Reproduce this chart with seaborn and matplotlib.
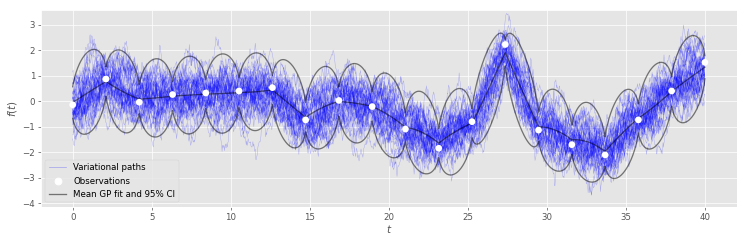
import numpy as np
import pandas as pd
import matplotlib
matplotlib.use("Agg")
import matplotlib.pyplot as plt
from matplotlib.lines import Line2D
import seaborn as sns

plt.style.use("ggplot")

# ---- data ----
obs_t = [0.0, 2.105, 4.211, 6.316, 8.421, 10.526, 12.632, 14.737, 16.842, 18.947,
         21.053, 23.158, 25.263, 27.368, 29.474, 31.579, 33.684, 35.789, 37.895, 40.0]
obs_y = [-0.14, 0.87, -0.04, 0.26, 0.32, 0.40, 0.53, -0.73, 0.03, -0.21,
         -1.09, -1.84, -0.80, 2.22, -1.13, -1.70, -2.10, -0.73, 0.40, 1.52]
# GP mean at the observation times and at segment midpoints
mean_knot = [-0.05, 0.77, 0.08, 0.20, 0.28, 0.34, 0.44, -0.63, -0.01, -0.20,
             -1.02, -1.64, -0.86, 1.90, -1.00, -1.51, -1.97, -0.67, 0.38, 1.33]
mean_mid = [0.37, 0.38, 0.13, 0.24, 0.30, 0.37, -0.10, -0.25, -0.08, -0.55,
            -1.22, -1.19, 0.48, 0.44, -1.13, -1.60, -1.27, -0.18, 0.87]
# 95% CI half width at observation times and at segment midpoints
ci_knot = [0.62, 0.58, 0.57, 0.57, 0.57, 0.57, 0.57, 0.57, 0.57, 0.57,
           0.57, 0.57, 0.57, 0.52, 0.57, 0.57, 0.57, 0.57, 0.57, 0.45]
ci_mid = [1.60, 1.58, 1.53, 1.52, 1.55, 1.52, 1.63, 1.58, 1.55, 1.60,
          1.58, 1.64, 1.60, 1.60, 1.58, 1.54, 1.60, 1.60, 1.63]
n_paths = 45
path_sd_knot = 0.48
path_sd_mid = 0.62

# ---- build mean / CI curves segment by segment ----
tt, mm, hh, sd = [], [], [], []
for i in range(len(obs_t) - 1):
    ta, tb = obs_t[i], obs_t[i + 1]
    s = np.linspace(0, 1, 60, endpoint=(i == len(obs_t) - 2))
    ma, mc, mb = mean_knot[i], mean_mid[i], mean_knot[i + 1]
    m = ma * (1 - s) * (1 - 2 * s) + mc * 4 * s * (1 - s) + mb * s * (2 * s - 1)
    ha, hb, H = ci_knot[i], ci_knot[i + 1], ci_mid[i]
    hl = (1 - s) * ha + s * hb
    hmid = 0.5 * (ha + hb)
    h = np.sqrt(hl ** 2 + (H ** 2 - hmid ** 2) * 4 * s * (1 - s))
    tt.append(ta + s * (tb - ta))
    mm.append(m)
    hh.append(h)
    sd.append(path_sd_knot + (path_sd_mid - path_sd_knot) * 4 * s * (1 - s))
tt = np.concatenate(tt); mm = np.concatenate(mm); hh = np.concatenate(hh); sd = np.concatenate(sd)

# ---- variational sample paths (stochastic texture around the mean) ----
rng = np.random.default_rng(7)
tp = np.arange(0, 40.0001, 0.03)
m_p = np.interp(tp, tt, mm)
sd_p = np.interp(tp, tt, sd)
theta = 1.2
dt = tp[1] - tp[0]
rows = []
for k in range(n_paths):
    z = np.empty_like(tp)
    z[0] = rng.normal()
    for j in range(1, len(tp)):
        z[j] = z[j - 1] - theta * z[j - 1] * dt + np.sqrt(2 * theta * dt) * rng.normal()
    y = m_p + sd_p * z
    rows.append(pd.DataFrame({"t": tp, "f": y, "path": k}))
paths = pd.concat(rows, ignore_index=True)

curves = pd.DataFrame({"t": tt, "mean": mm, "upper": mm + hh, "lower": mm - hh})
obs = pd.DataFrame({"t": obs_t, "y": obs_y})

fig = plt.figure(figsize=(12, 3.904), dpi=62.25)
ax = fig.add_axes([0.055, 0.149, 0.931, 0.810])

sns.lineplot(data=paths, x="t", y="f", units="path", estimator=None, sort=False,
             color="b", lw=0.5, alpha=0.28, ax=ax, legend=False)
for col in ["upper", "lower", "mean"]:
    sns.lineplot(data=curves, x="t", y=col, color="k", alpha=0.5, lw=1.5,
                 sort=False, ax=ax, legend=False)
sns.scatterplot(data=obs, x="t", y="y", color="white", s=60, edgecolor="none",
                zorder=5, ax=ax, legend=False)

ax.set_xlim(-2, 42)
ax.set_ylim(-4.13, 3.57)
ax.set_xticks([0, 5, 10, 15, 20, 25, 30, 35, 40])
ax.set_yticks([-4, -3, -2, -1, 0, 1, 2, 3])
ax.set_xlabel("$t$", labelpad=1)
ax.set_ylabel("$f(t)$")

handles = [Line2D([], [], color="b", lw=0.8, alpha=0.3),
           Line2D([], [], marker="o", ls="none", color="white", markersize=8),
           Line2D([], [], color="k", alpha=0.5, lw=1.5)]
ax.legend(handles, ["Variational paths", "Observations", "Mean GP fit and 95% CI"],
          loc="lower left")

fig.savefig("out.png", dpi=62.25)
